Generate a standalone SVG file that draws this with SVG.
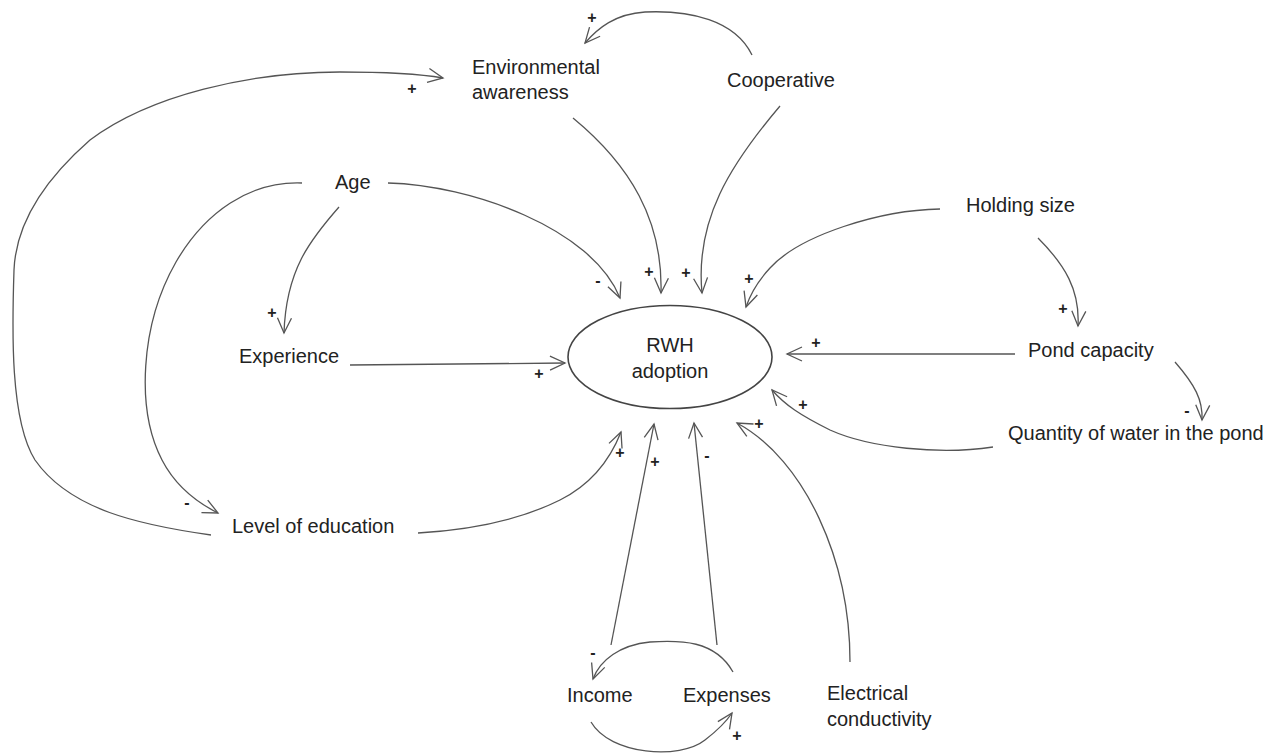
<svg xmlns="http://www.w3.org/2000/svg" width="1277" height="754" viewBox="0 0 1277 754">
<defs>
<style>
.lbl{font-family:"Liberation Sans",Arial,sans-serif;font-size:20px;fill:#222}
.sgn{font-family:"Liberation Sans",Arial,sans-serif;font-size:16px;font-weight:bold;fill:#222;text-anchor:middle;dominant-baseline:central}
.edge{fill:none;stroke:#555;stroke-width:1.3;marker-end:url(#arr)}
.node-shape{fill:#fff;stroke:#444;stroke-width:1.6}
</style>
<marker id="arr" viewBox="-17 -9 19 18" refX="0" refY="0" markerWidth="19" markerHeight="18" markerUnits="userSpaceOnUse" orient="auto">
<path d="M-15,-7 L0,0 L-15,7" fill="none" stroke="#555" stroke-width="1.3"/>
</marker>
</defs>
<rect width="1277" height="754" fill="#fff"/>
<g id="connectors">
<path class="edge" d="M388,183 C470,185 592,228 620,298"/>
<path class="edge" d="M339,207 C310,240 286,270 284,333"/>
<path class="edge" d="M302,183 C250,181 205,212 176,262 C140,325 136,410 162,460 C176,487 196,502 218,513"/>
<path class="edge" d="M211,535 C140,525 70,510 35,460 C10,420 12,330 14,270 C16,220 50,175 90,140 C150,95 250,72 340,72 C380,72 420,74 443,78"/>
<path class="edge" d="M418,533 C470,530 520,520 560,500 C590,485 610,460 621,432"/>
<path class="edge" d="M350,365 L565,363"/>
<path class="edge" d="M573,118 C630,165 663,220 661,293"/>
<path class="edge" d="M780,106 C730,165 695,220 702,293"/>
<path class="edge" d="M752,55 C735,20 690,10 645,12 C615,14 598,28 585,43"/>
<path class="edge" d="M940,209 C880,210 800,235 770,268 C757,282 750,295 746,307"/>
<path class="edge" d="M1038,238 C1065,265 1080,290 1078,326"/>
<path class="edge" d="M1015,354 L787,354"/>
<path class="edge" d="M1175,362 C1195,385 1203,400 1202,420"/>
<path class="edge" d="M993,447 C940,455 870,448 830,430 C800,415 785,405 772,390"/>
<path class="edge" d="M850,662 C850,560 805,460 737,423"/>
<path class="edge" d="M611,645 L654,424"/>
<path class="edge" d="M717,645 L694,423"/>
<path class="edge" d="M733,672 C715,640 680,640 650,642 C620,645 600,660 593,679"/>
<path class="edge" d="M591,722 C610,755 680,760 705,740 C718,730 726,722 732,713"/>
<text class="sgn" x="412" y="88">+</text>
<text class="sgn" x="592" y="17">+</text>
<text class="sgn" x="598" y="280">-</text>
<text class="sgn" x="649" y="271">+</text>
<text class="sgn" x="686" y="272">+</text>
<text class="sgn" x="749" y="278">+</text>
<text class="sgn" x="272" y="312">+</text>
<text class="sgn" x="539" y="373">+</text>
<text class="sgn" x="1063" y="308">+</text>
<text class="sgn" x="816" y="342">+</text>
<text class="sgn" x="1187" y="410">-</text>
<text class="sgn" x="803" y="404">+</text>
<text class="sgn" x="759" y="423">+</text>
<text class="sgn" x="620" y="452">+</text>
<text class="sgn" x="655" y="461">+</text>
<text class="sgn" x="707" y="455">-</text>
<text class="sgn" x="187" y="502">-</text>
<text class="sgn" x="593" y="652">-</text>
<text class="sgn" x="737" y="735">+</text>
</g>
<g id="rwh-adoption">
<ellipse class="node-shape" cx="670" cy="357" rx="102" ry="51.5"/>
<text class="lbl" x="670" y="352" text-anchor="middle">RWH</text>
<text class="lbl" x="670" y="378" text-anchor="middle">adoption</text>
</g>
<g id="environmental-awareness">
<text class="lbl" x="472" y="74">Environmental</text>
<text class="lbl" x="472" y="99">awareness</text>
</g>
<g id="cooperative"><text class="lbl" x="727" y="87">Cooperative</text></g>
<g id="age"><text class="lbl" x="335" y="189">Age</text></g>
<g id="experience"><text class="lbl" x="239" y="363">Experience</text></g>
<g id="level-of-education"><text class="lbl" x="232" y="533">Level of education</text></g>
<g id="holding-size"><text class="lbl" x="966" y="212">Holding size</text></g>
<g id="pond-capacity"><text class="lbl" x="1028" y="357">Pond capacity</text></g>
<g id="quantity-of-water"><text class="lbl" x="1008" y="440">Quantity of water in the pond</text></g>
<g id="income"><text class="lbl" x="567" y="702">Income</text></g>
<g id="expenses"><text class="lbl" x="683" y="702">Expenses</text></g>
<g id="electrical-conductivity">
<text class="lbl" x="827" y="700">Electrical</text>
<text class="lbl" x="827" y="726">conductivity</text>
</g>
</svg>
